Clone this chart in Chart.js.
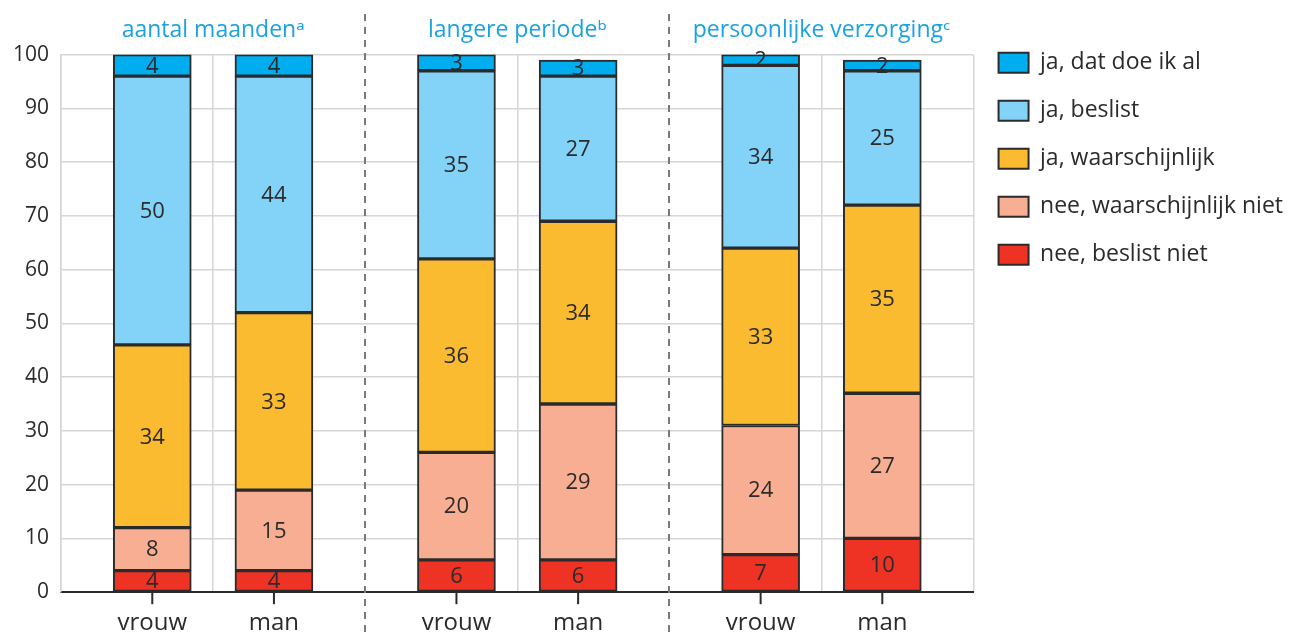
<!DOCTYPE html>
<html>
<head>
<meta charset="utf-8">
<script src="https://cdn.jsdelivr.net/npm/chart.js@4.4.1/dist/chart.umd.min.js"></script>
<style>
    html, body { margin: 0; padding: 0; background: #fff; }
    #wrap { width: 1289px; height: 635px; }
</style>
</head>
<body>
<div id="wrap"><canvas id="chart"></canvas></div>
<script>
// Chart data, bottom segment first.
const groupTitles = ['aantal maanden\u1d43', 'langere periode\u1d47', 'persoonlijke verzorging\u1d9c'];
const sexLabels = ['vrouw', 'man'];
const yTicks = [0, 10, 20, 30, 40, 50, 60, 70, 80, 90, 100];

const neeBeslistNiet = [4, 4, 6, 6, 7, 10];
const neeWaarschijnlijkNiet = [8, 15, 20, 29, 24, 27];
const jaWaarschijnlijk = [34, 33, 36, 34, 33, 35];
const jaBeslist = [50, 44, 35, 27, 34, 25];
const jaDoeIkAl = [4, 4, 3, 3, 2, 2];

// Each group spans 10 units on the x scale, the two bars sit at 3 and 7.
const barX = groupTitles.flatMap((t, g) => [g * 10 + 3, g * 10 + 7]);
const toPoints = values => values.map((v, i) => ({ x: barX[i], y: v }));

const FONT = '"Open Sans", "Noto Sans", sans-serif';
const GRID = '#d6d6d6';
const DARK = '#2b2b2b';

function makeSet(label, values, color) {
    return {
        label: label,
        data: toPoints(values),
        backgroundColor: color,
        borderColor: DARK,
        borderWidth: 2,
        borderSkipped: false,
        barThickness: 78,
        xAxisID: 'x'
    };
}

// Values in the middle of every segment.
const valueLabels = {
    id: 'valueLabels',
    afterDatasetsDraw(chart) {
        const ctx = chart.ctx;
        ctx.save();
        ctx.font = '22px ' + FONT;
        ctx.fillStyle = DARK;
        ctx.textAlign = 'center';
        ctx.textBaseline = 'middle';
        chart.data.datasets.forEach((ds, i) => {
            chart.getDatasetMeta(i).data.forEach((bar, j) => {
                ctx.fillText(ds.data[j].y, bar.x, (bar.y + bar.base) / 2 + 1);
            });
        });
        ctx.restore();
    },
    // Small tick marks under each bar.
    afterDraw(chart) {
        const ctx = chart.ctx;
        const xb = chart.scales.x;
        const base = chart.chartArea.bottom;
        ctx.save();
        ctx.strokeStyle = DARK;
        ctx.lineWidth = 2;
        ctx.setLineDash([]);
        xb.ticks.forEach(t => {
            const px = xb.getPixelForValue(t.value);
            ctx.beginPath();
            ctx.moveTo(px, base);
            ctx.lineTo(px, base + 12);
            ctx.stroke();
        });
        ctx.restore();
    }
};

// Dashed separators between the three groups, running past the plot area.
const groupDividers = {
    id: 'groupDividers',
    beforeDatasetsDraw(chart) {
        const ctx = chart.ctx;
        const xs = chart.scales.xt;
        ctx.save();
        ctx.strokeStyle = '#7a7a7a';
        ctx.lineWidth = 2;
        ctx.setLineDash([7, 6]);
        [10, 20].forEach(v => {
            const px = Math.round(xs.getPixelForValue(v));
            ctx.beginPath();
            ctx.moveTo(px, 14);
            ctx.lineTo(px, chart.height);
            ctx.stroke();
        });
        ctx.restore();
    }
};

const config = {
    type: 'bar',
    data: {
        datasets: [
            makeSet('nee, beslist niet', neeBeslistNiet, '#ee3325'),
            makeSet('nee, waarschijnlijk niet', neeWaarschijnlijkNiet, '#f8ae93'),
            makeSet('ja, waarschijnlijk', jaWaarschijnlijk, '#fbbb30'),
            makeSet('ja, beslist', jaBeslist, '#82d3f7'),
            makeSet('ja, dat doe ik al', jaDoeIkAl, '#00adef')
        ]
    },
    options: {
        responsive: true,
        maintainAspectRatio: false,
        animation: false,
        layout: { padding: { left: 1, right: -4, top: 7, bottom: -10 } },
        plugins: {
            tooltip: { enabled: false },
            legend: {
                position: 'right',
                align: 'start',
                reverse: true,
                title: { display: true, text: '', font: { size: 1 }, padding: { top: 0, bottom: 18 } },
                labels: {
                    boxWidth: 30,
                    boxHeight: 20,
                    padding: 25,
                    color: DARK,
                    font: { family: FONT, size: 23 }
                }
            }
        },
        scales: {
            x: {
                type: 'linear',
                position: 'bottom',
                stacked: true,
                offset: false,
                min: 0,
                max: 30,
                afterBuildTicks: axis => { axis.ticks = barX.map(v => ({ value: v })); },
                ticks: {
                    autoSkip: false,
                    maxRotation: 0,
                    padding: 7,
                    color: DARK,
                    font: { family: FONT, size: 24 },
                    callback: value => sexLabels[barX.indexOf(value) % 2]
                },
                grid: {
                    offset: false,
                    drawOnChartArea: false,
                    drawTicks: true,
                    tickLength: 10,
                    tickColor: 'rgba(0,0,0,0)'
                },
                border: { color: DARK, width: 2 }
            },
            xt: {
                type: 'linear',
                position: 'top',
                offset: false,
                min: 0,
                max: 30,
                afterBuildTicks: axis => {
                    axis.ticks = [0, 5, 10, 15, 20, 25, 30].map(v => ({ value: v }));
                },
                ticks: {
                    autoSkip: false,
                    maxRotation: 0,
                    padding: 10,
                    color: '#1aa3e0',
                    font: { family: FONT, size: 23 },
                    callback: value => (value % 10 === 5 ? groupTitles[(value - 5) / 10] : '')
                },
                grid: {
                    offset: false,
                    drawTicks: false,
                    lineWidth: 1.5,
                    color: c => (c.tick && (c.tick.value === 10 || c.tick.value === 20) ? 'rgba(0,0,0,0)' : GRID)
                },
                border: { display: false }
            },
            y: {
                stacked: true,
                min: 0,
                max: 100,
                afterBuildTicks: axis => { axis.ticks = yTicks.map(v => ({ value: v })); },
                ticks: {
                    padding: 12,
                    color: DARK,
                    font: { family: FONT, size: 21 }
                },
                grid: {
                    drawTicks: false,
                    lineWidth: 1.5,
                    color: c => (c.tick && c.tick.value === 0 ? DARK : GRID)
                },
                border: { color: GRID, width: 1.5 }
            }
        }
    },
    plugins: [groupDividers, valueLabels]
};

new Chart(document.getElementById('chart'), config);
</script>
</body>
</html>
